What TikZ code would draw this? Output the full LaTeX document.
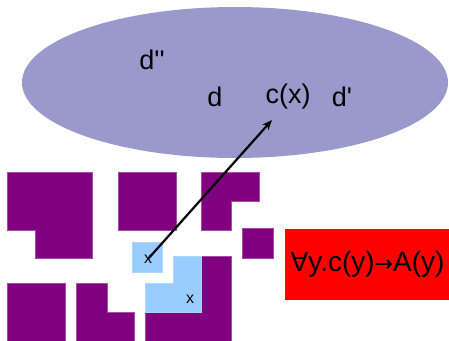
\documentclass[tikz,border=0pt]{standalone}
\usepackage{fontspec}
\newfontfamily\af{Liberation Sans}
\newfontfamily\dv{DejaVu Sans}
\usetikzlibrary{arrows.meta}
\definecolor{ell}{HTML}{9999CC}
\definecolor{purp}{HTML}{800080}
\definecolor{lblue}{HTML}{99CCFF}
\tikzset{
  blk/.style={fill=purp, draw=purp!70!white, line width=0.4pt},
  lb/.style={fill=lblue, draw=lblue!80!white, line width=0.4pt},
  big/.style={font=\af\fontsize{27}{30}\selectfont, inner sep=0pt},
  small/.style={font=\af\fontsize{16}{18}\selectfont, inner sep=0pt},
}
\begin{document}
\begin{tikzpicture}[x=1pt,y=-1pt]
\useasboundingbox (0,0) rectangle (449,340);
% ellipse
\fill[ell] (235,82.5) ellipse [x radius=213, y radius=75.5];
\node[big] (dpp) at (152,60) {d''};
\node[big] (d) at (215,97) {d};
\node[big] (cx) at (288,97) {c(x)};
\node[big] (dp) at (342,97) {d'};
% purple blocks
\draw[blk] (7,172) -- (92,172) -- (92,258) -- (35,258) -- (35,230) -- (7,230) -- cycle;
\draw[blk] (118,172) rectangle (176,230);
\draw[blk] (201,172) -- (259,172) -- (259,201) -- (231,201) -- (231,230) -- (201,230) -- cycle;
\draw[blk] (242,228) rectangle (273,258);
\draw[blk] (7,283) rectangle (65,342);
\draw[blk] (76,283) -- (107,283) -- (107,312) -- (134,312) -- (134,342) -- (76,342) -- cycle;
\draw[blk] (201,256) -- (231,256) -- (231,342) -- (145,342) -- (145,312) -- (201,312) -- cycle;
% light blue
\draw[lb] (132,242) rectangle (162,272);
\draw[lb] (173,256) -- (201,256) -- (201,312) -- (145,312) -- (145,283) -- (173,283) -- cycle;
\node[small] (x1) at (148,259) {x};
\node[small] (x2) at (190,299) {x};
% red box
\node[fill=red, minimum width=165pt, minimum height=71pt, inner sep=0pt,
      font=\af\fontsize{28}{32}\selectfont] (rule) at (367.5,264)
      {{\dv\fontsize{26}{30}\selectfont ∀}y.c(y){\dv\fontsize{22}{30}\selectfont →}A(y)};
% arrow
\coordinate (tip) at (272,120);
\draw[line width=2.2pt, -{Stealth[length=10pt,width=8pt]}] (x1.center) -- (tip);
\end{tikzpicture}
\end{document}
